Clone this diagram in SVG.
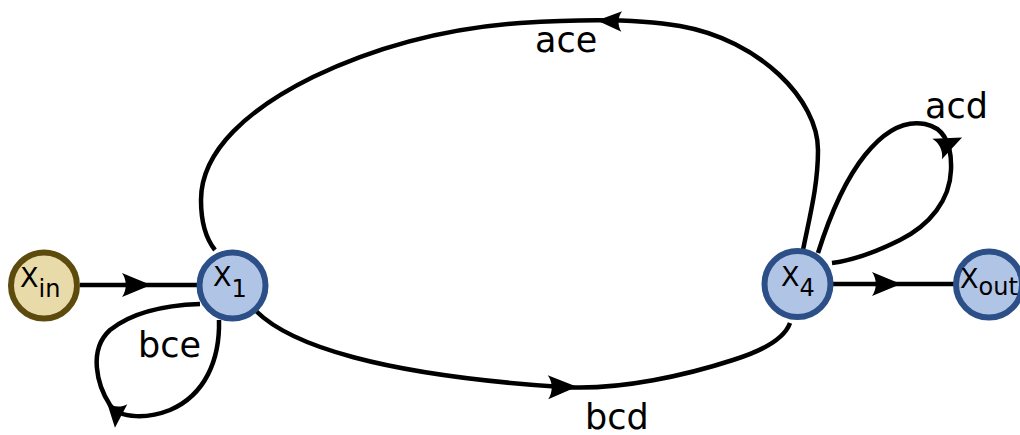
<svg xmlns="http://www.w3.org/2000/svg" xmlns:xlink="http://www.w3.org/1999/xlink" width="1020" height="435" viewBox="0 0 1020 435">
<style>
.edge{fill:none;stroke:#000;stroke-width:4.5;stroke-linecap:butt}
.head{fill:#000;stroke:none}
.nblue{fill:#b0c4e6;stroke:#2b4f86;stroke-width:6}
.ntan{fill:#e9dba9;stroke:#5c4b0c;stroke-width:6}
.nlab{font-family:"DejaVu Sans","Liberation Sans",sans-serif;font-size:27px;fill:#000}
.sub{font-size:24px}
.elab{font-family:"DejaVu Sans","Liberation Sans",sans-serif;font-size:35px;fill:#000}
</style>
<defs>
<path id="ah" d="M 14,0 L -15,-12 C -10,-5 -10,5 -15,12 Z"/>
</defs>
<rect width="1020" height="435" fill="#fff"/>
<g id="connectors">
<path class="edge" d="M 80,285 L 197,285"/>
<use xlink:href="#ah" href="#ah" class="head" transform="translate(137,285)"/>
<path class="edge" d="M 833,284 L 954,284"/>
<use xlink:href="#ah" href="#ah" class="head" transform="translate(887,284)"/>
<path class="edge" d="M 256,311 C 290,345 380,375 562,387 C 620,391 690,374 733,360 C 765,350 785,337 790,323"/>
<use xlink:href="#ah" href="#ah" class="head" transform="translate(563,387) rotate(-1)"/>
<path class="edge" d="M 803,250 C 810,215 818,185 818,150 C 818,100 760,40 680,26 C 640,19 580,19 520,23 C 450,28 380,45 313,77 C 250,108 201,150 201,200 C 201,225 207,240 215,250"/>
<use xlink:href="#ah" href="#ah" class="head" transform="translate(609,21) rotate(182) scale(0.85)"/>
<path class="edge" d="M 818,253 C 830,215 845,180 865,155 C 885,130 905,120 925,124 C 945,128 952,145 951,170 C 950,200 930,225 900,240 C 880,250 855,260 832,263"/>
<use xlink:href="#ah" href="#ah" class="head" transform="translate(950,143) rotate(-25) scale(0.95)"/>
<path class="edge" d="M 219,320 C 220,360 205,395 170,410 C 150,418 120,420 110,405 C 97,385 88,350 110,330 C 135,310 170,305 200,304"/>
<use xlink:href="#ah" href="#ah" class="head" transform="translate(116,416) rotate(95) scale(0.85)"/>
<text class="elab" x="535" y="52">ace</text>
<text class="elab" x="585" y="429">bcd</text>
<text class="elab" x="925" y="118">acd</text>
<text class="elab" x="138" y="357">bce</text>
</g>
<g id="node-xin">
<circle class="ntan" cx="44" cy="285.5" r="33"/>
<text class="nlab" x="20" y="287">X<tspan class="sub" dy="10">in</tspan></text>
</g>
<g id="node-x1">
<circle class="nblue" cx="232.5" cy="285.5" r="33"/>
<text class="nlab" x="213" y="286">X<tspan class="sub" dy="11">1</tspan></text>
</g>
<g id="node-x4">
<circle class="nblue" cx="797.5" cy="284" r="33"/>
<text class="nlab" x="781" y="286">X<tspan class="sub" dy="10">4</tspan></text>
</g>
<g id="node-xout">
<circle class="nblue" cx="989" cy="284.5" r="33"/>
<text class="nlab" x="960" y="288">X<tspan class="sub" dy="7">out</tspan></text>
</g>
</svg>
